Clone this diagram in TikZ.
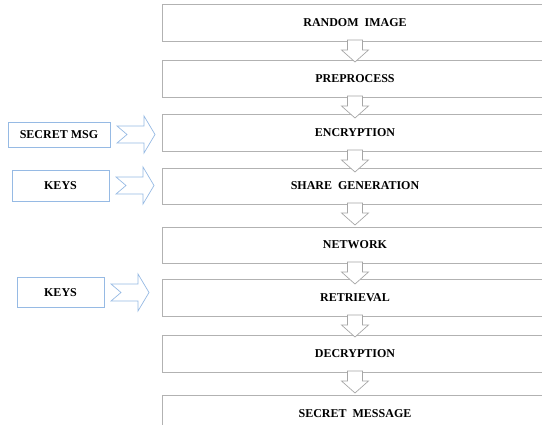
\documentclass[tikz,border=0pt]{standalone}
\usepackage{fontspec}
\setmainfont{Liberation Serif}
\usetikzlibrary{positioning,calc}
\definecolor{sideblue}{RGB}{150,186,228}

\begin{document}
\begin{tikzpicture}[
    x=1pt, y=1pt,
    every node/.style={font=\fontsize{12}{14}\selectfont\bfseries},
    stage/.style={
        draw=gray!60,
        line width=0.8pt,
        fill=white,
        minimum width=386pt,
        minimum height=37pt,
        inner sep=0pt,
        outer sep=0pt
      },
    input/.style={
        draw=sideblue,
        line width=0.8pt,
        fill=white,
        inner sep=0pt,
        outer sep=0pt
      },
    downarrow/.style={
        draw=gray!70, line width=0.7pt, fill=white,
        to path={let \p1=(\tikztostart) in
            (\x1-7.5,\y1+1) -- (\x1+7.5,\y1+1) -- (\x1+7.5,\y1-9)
            -- (\x1+13.5,\y1-9) -- (\x1,\y1-21) -- (\x1-13.5,\y1-9)
            -- (\x1-7.5,\y1-9) -- cycle}
      },
    notched/.style={
        draw=sideblue, line width=0.7pt, fill=white,
        to path={let \p1=(\tikztostart) in
            (\x1+7,\y1+8.5) -- (\x1+34,\y1+8.5) -- (\x1+34,\y1+18.5)
            -- (\x1+45,\y1) -- (\x1+34,\y1-18.5) -- (\x1+34,\y1-8.5)
            -- (\x1+7,\y1-8.5) -- (\x1+17,\y1) -- cycle}
      }
  ]
  \useasboundingbox (0,0) rectangle (542,-425);

  % main chain
  \node[stage] (rnd) at (355,-22.5) {RANDOM~ IMAGE};
  \node[stage, below=19pt of rnd] (pre) {PREPROCESS};
  \node[stage, below=17pt of pre] (enc) {ENCRYPTION};
  \node[stage, below=17pt of enc, minimum height=36pt] (shr) {SHARE~ GENERATION};
  \node[stage, below=23pt of shr, minimum height=36pt] (net) {NETWORK};
  \node[stage, below=16pt of net] (ret) {RETRIEVAL};
  \node[stage, below=19pt of ret] (dec) {DECRYPTION};
  \node[stage, below=23pt of dec] (msg) {SECRET~ MESSAGE};

  % inputs on the left
  \node[input, minimum width=102pt, minimum height=25pt] (smsg) at (59,-134.5) {SECRET MSG};
  \node[input, minimum width=97pt, minimum height=31pt] (key1) at (60.5,-185.5) {KEYS};
  \node[input, minimum width=87pt, minimum height=30pt] (key2) at (60.5,-292.5) {KEYS};

  \draw[downarrow] (rnd.south) to (pre.north);
  \draw[downarrow] (pre.south) to (enc.north);
  \draw[downarrow] (enc.south) to (shr.north);
  \draw[downarrow] (shr.south) to (net.north);
  \draw[downarrow] (net.south) to (ret.north);
  \draw[downarrow] (ret.south) to (dec.north);
  \draw[downarrow] (dec.south) to (msg.north);

  \draw[notched] (smsg.east) to (enc.west);
  \draw[notched] (key1.east) to (shr.west);
  \draw[notched] (key2.east) to (ret.west);
\end{tikzpicture}
\end{document}
